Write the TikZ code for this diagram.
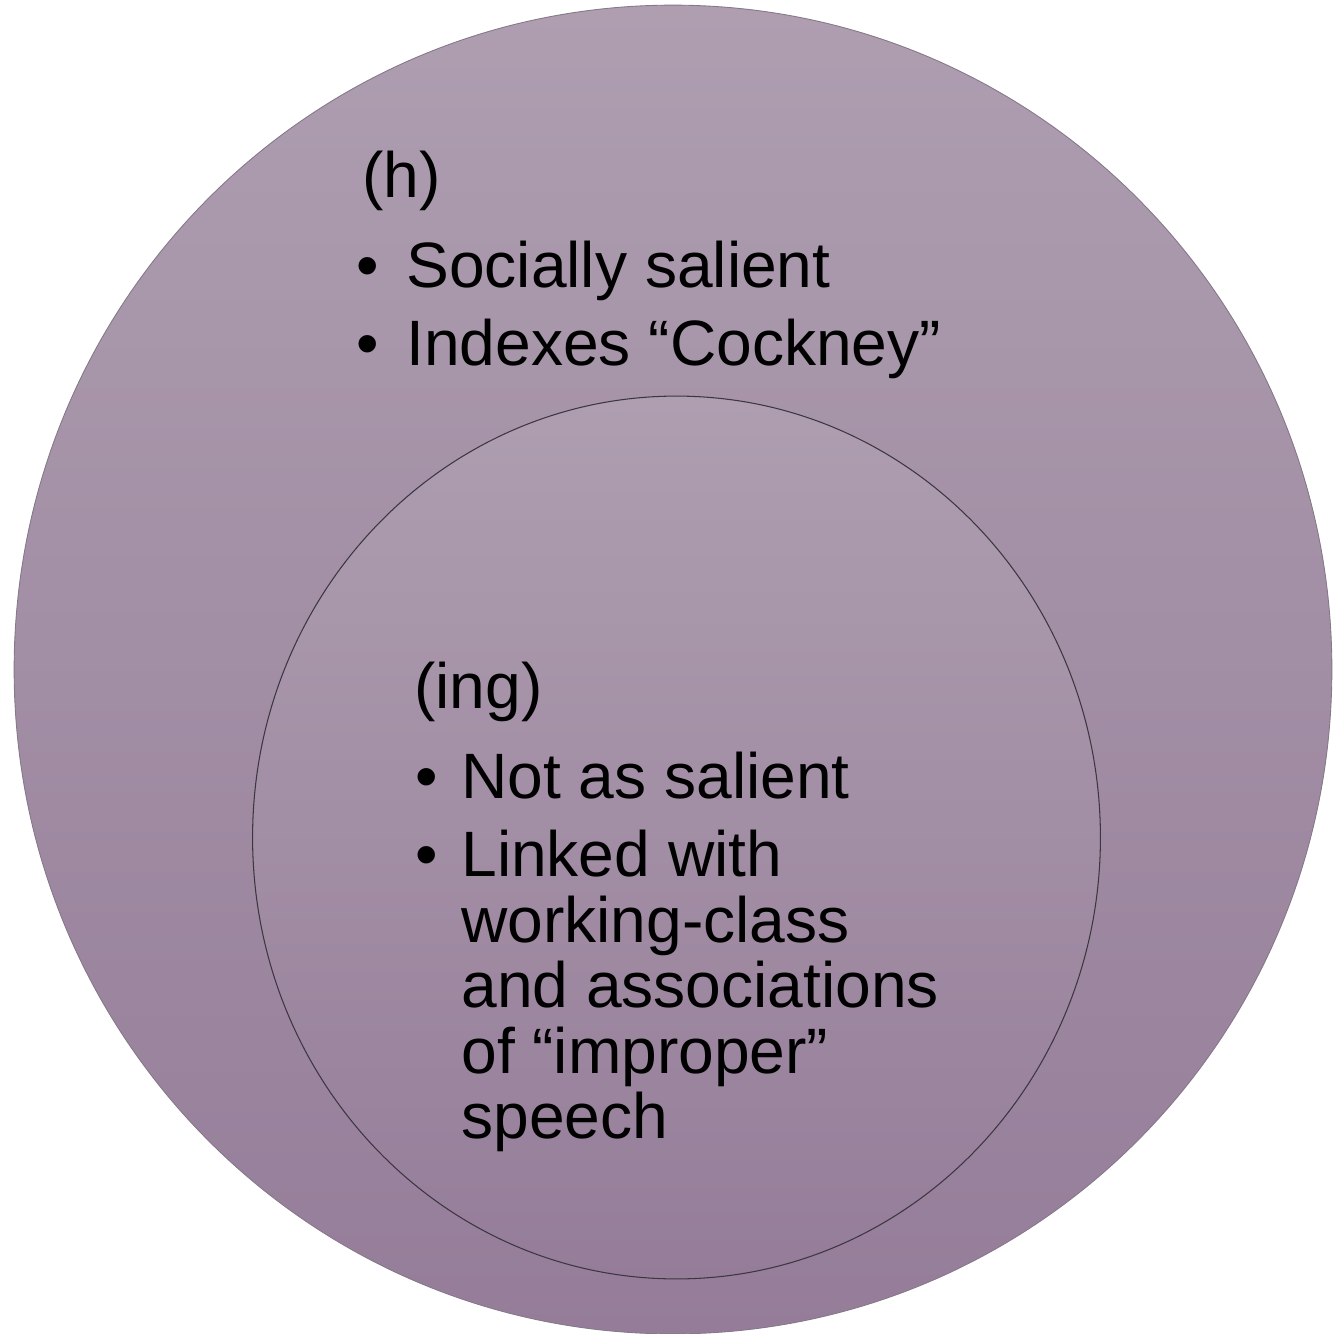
\documentclass[tikz,border=0pt]{standalone}
\usepackage{fontspec}
\setmainfont{Liberation Sans}
\usetikzlibrary{shapes.geometric}
\definecolor{vnTop}{HTML}{AE9EB0}
\definecolor{vnBot}{HTML}{957D99}
\definecolor{vnRim}{HTML}{857888}
\definecolor{vnEdge}{HTML}{3C3640}
\tikzset{
  vnring/.style={ellipse, inner sep=0pt, top color=vnTop, bottom color=vnBot},
  outerring/.style={vnring, draw=vnRim, line width=0.5pt,
    minimum width=26.36cm, minimum height=26.58cm},
  innerring/.style={vnring, draw=vnEdge, line width=0.6pt,
    minimum width=16.96cm, minimum height=17.66cm},
  vntext/.style={font=\fontsize{36.5}{44}\selectfont, anchor=base west,
    inner sep=0pt, text=black},
  vnhead/.style={vntext},
  vnbullet/.style={vntext},
  vnline/.style={vntext}
}
\begin{document}
\begin{tikzpicture}[x=0.02cm, y=-0.02cm]
  \useasboundingbox (0,0) rectangle (1332,1334);
  \node[outerring] (hring) at (673,669.5) {};
  \node[innerring] (ingring) at (676.5,837.5) {};
  % (h)
  \node[vnhead] (hhead) at (362,198) {(h)};
  \foreach \y/\txt [count=\i] in {288/Socially salient, 366/Indexes “Cockney”}{
    \node[vnbullet] (hdot\i) at (356,\y) {•};
    \node[vnline] (hitem\i) at (406,\y) {\txt};
  }
  % (ing)
  \node[vnhead] (inghead) at (414,708) {(ing)};
  \foreach \y [count=\i] in {798,876}
    \node[vnbullet] (ingdot\i) at (415,\y) {•};
  \foreach \y/\txt [count=\i] in {798/Not as salient, 876/Linked with,
      942/working-class, 1007/and associations, 1073/of “improper”, 1138/speech}
    \node[vnline] (ingline\i) at (461,\y) {\txt};
\end{tikzpicture}
\end{document}
